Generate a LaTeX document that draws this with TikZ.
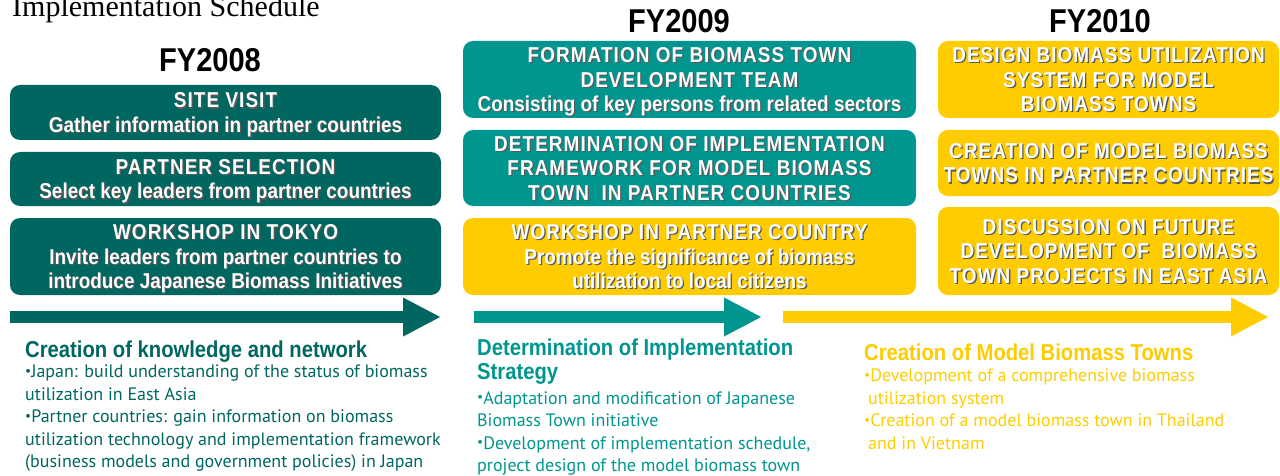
\documentclass[tikz,border=0pt]{standalone}
\usepackage{fontspec}
\usepackage{graphicx}
\setmainfont{Liberation Serif}
\newfontfamily\boxfont{Liberation Sans}[FakeStretch=0.88]
\newfontfamily\capsfont{Liberation Sans}[FakeStretch=0.88,LetterSpace=5]
\newfontfamily\bodyfont{PT Sans}
\usetikzlibrary{arrows.meta,positioning}
\definecolor{darkteal}{RGB}{0,102,96}
\definecolor{midteal}{RGB}{0,150,143}
\definecolor{gold}{RGB}{255,204,0}
\newcommand{\sh}[1]{\leavevmode\rlap{\hspace{1.3pt}\raisebox{-1.3pt}{\color{black!65}#1}}#1}
\newcommand{\shc}[1]{{\capsfont\sh{#1}}}
\newcommand{\bul}{\raisebox{0.3ex}{\scalebox{0.75}{•}}}
\begin{document}
\begin{tikzpicture}[x=1pt,y=-1pt,
  box/.style={rounded corners=10pt,inner sep=0pt,align=center,text=white,text depth=0pt,
    font=\boxfont\bfseries\fontsize{21.5}{24.5}\selectfont},
  colA/.style={box,fill=darkteal,minimum width=431pt},
  colB/.style={box,fill=midteal,minimum width=453pt},
  colC/.style={box,fill=gold,minimum width=341pt},
  year/.style={inner sep=0pt,font=\boxfont\bfseries\fontsize{33}{33}\selectfont},
  headtxt/.style={anchor=base west,inner sep=0pt,align=left,
    font=\boxfont\bfseries\fontsize{23}{23.5}\selectfont},
  bodytxt/.style={anchor=north west,inner sep=0pt,align=left,
    font=\bodyfont\fontsize{18}{22.5}\selectfont},
  phase/.style={line width=12pt,-{Triangle[length=38pt,width=36pt]}}]
\useasboundingbox (0,0) rectangle (1280,476);
\node[anchor=base west,inner sep=0pt,font=\fontsize{30}{30}\selectfont] (title) at (12,17) {Implementation Schedule};

\node[year] (fy08) at (210,60) {FY2008};
\node[year] (fy09) at (679,21) {FY2009};
\node[year] (fy10) at (1100,21) {FY2010};

\node[colA,minimum height=55pt] (visit) at (225.5,112.5) {\shc{SITE VISIT}\\\sh{Gather information in partner countries}};
\node[colA,minimum height=54pt] (select) at (225.5,179) {\shc{PARTNER SELECTION}\\\sh{Select key leaders from partner countries}};
\node[colA,minimum height=77pt] (tokyo) at (225.5,256.5) {\shc{WORKSHOP IN TOKYO}\\\sh{Invite leaders from partner countries to}\\\sh{introduce Japanese Biomass Initiatives}};

\node[colB,minimum height=77pt] (team) at (689.5,79.5) {\shc{FORMATION OF BIOMASS TOWN}\\\shc{DEVELOPMENT TEAM}\\\sh{Consisting of key persons from related sectors}};
\node[colB,minimum height=76pt] (frame) at (689.5,168) {\shc{DETERMINATION OF IMPLEMENTATION}\\\shc{FRAMEWORK FOR MODEL BIOMASS}\\\shc{TOWN\ \ IN PARTNER COUNTRIES}};
\node[colB,fill=gold,minimum height=77pt] (localws) at (689.5,256.5) {\shc{WORKSHOP IN PARTNER COUNTRY}\\\sh{Promote the significance of biomass}\\\sh{utilization to local citizens}};

\node[colC,minimum height=77pt] (design) at (1108.5,79.5) {\shc{DESIGN BIOMASS UTILIZATION}\\\shc{SYSTEM FOR MODEL}\\\shc{BIOMASS TOWNS}};
\node[colC,minimum height=66pt] (create) at (1108.5,163) {\shc{CREATION OF MODEL BIOMASS}\\\shc{TOWNS IN PARTNER COUNTRIES}};
\node[colC,minimum height=88pt] (discuss) at (1108.5,251) {\shc{DISCUSSION ON FUTURE}\\\shc{DEVELOPMENT OF\ \ BIOMASS}\\\shc{TOWN PROJECTS IN EAST ASIA}};

\coordinate (startA) at (10,317);
\coordinate (endA) at (441,317);
\coordinate (startB) at (474,317);
\coordinate (endB) at (762,317);
\coordinate (startC) at (783,317);
\coordinate (endC) at (1269,317);
\draw[phase,darkteal] (startA) -- (endA);
\draw[phase,midteal] (startB) -- (endB);
\draw[phase,gold] (startC) -- (endC);

\node[headtxt,text=darkteal] (knowhead) at (25,357) {Creation of knowledge and network};
\node[bodytxt,text=darkteal] (knowbody) at (25,365) {\bul Japan: build understanding of the status of biomass\\utilization in East Asia\\\bul Partner countries: gain information on biomass\\utilization technology and implementation framework\\(business models and government policies) in Japan};

\node[headtxt,text=midteal] (strathead) at (477,379) {Determination of Implementation\\Strategy};
\node[bodytxt,text=midteal] (stratbody) at (477,391) {\bul Adaptation and modification of Japanese\\Biomass Town initiative\\\bul Development of implementation schedule,\\project design of the model biomass town};

\node[headtxt,text=gold] (modelhead) at (864,360) {Creation of Model Biomass Towns};
\node[bodytxt,text=gold] (modelbody) at (864,369) {\bul Development of a comprehensive biomass\\\hspace{4pt}utilization system\\\bul Creation of a model biomass town in Thailand\\\hspace{4pt}and in Vietnam};
\end{tikzpicture}
\end{document}
